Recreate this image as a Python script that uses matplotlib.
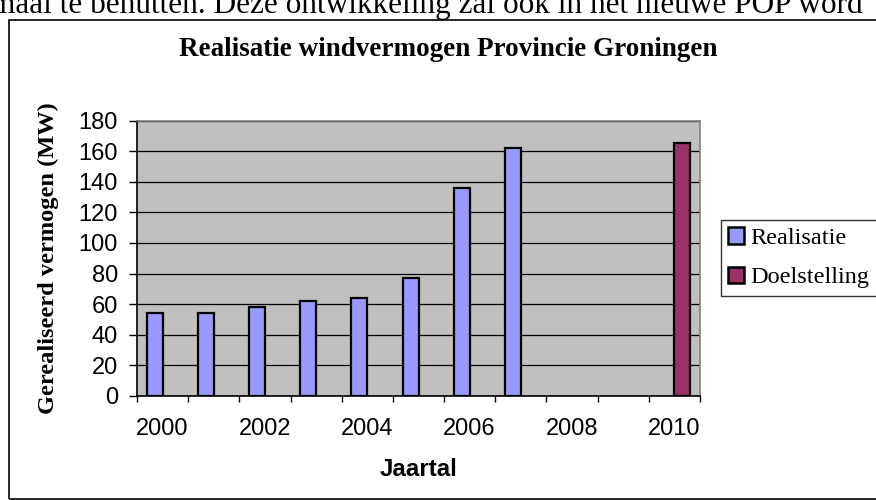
import numpy as np
import matplotlib.pyplot as plt
from matplotlib.patches import Rectangle

years = [2000, 2001, 2002, 2003, 2004, 2005, 2006, 2007, 2008, 2009, 2010]
realisatie = [54, 54, 58, 62, 64, 77, 136, 162, np.nan, np.nan, np.nan]
doelstelling = [np.nan] * 10 + [165]
year_labels = ['2000', '', '2002', '', '2004', '', '2006', '', '2008', '', '2010']
y_ticks = list(range(0, 181, 20))

SERIF = ['Liberation Serif', 'DejaVu Serif']
SANS = ['Liberation Sans', 'DejaVu Sans']
W, H = 876, 500


def fx(px):
    return px / W


def fy(py):
    return 1 - py / H


fig = plt.figure(figsize=(W / 100, H / 100), dpi=100)

# page text, cut off above the chart
fig.text(fx(-9), fy(13), 'maal te benutten. Deze ontwikkeling zal ook in het nieuwe POP word',
         family=SERIF, fontsize=22.5, ha='left', va='baseline')

# chart frame
fig.patches.append(Rectangle((fx(8.5), fy(499)), 1.0, (499 - 20) / H, transform=fig.transFigure,
                             fill=False, edgecolor='black', linewidth=1.2))

ax = fig.add_axes([fx(137), fy(396), fx(700) - fx(137), (396 - 120.5) / H])
ax.set_facecolor('#c0c0c0')

x = np.arange(len(years))
w = 0.31
ax.bar(x - w / 2, realisatie, w, color='#9999ff', edgecolor='black', linewidth=1.6,
       label='Realisatie', zorder=3)
ax.bar(x + w / 2, doelstelling, w, color='#993366', edgecolor='black', linewidth=1.6,
       label='Doelstelling', zorder=3)

ax.set_xlim(-0.5, len(years) - 0.5)
ax.set_ylim(0, 180)
ax.set_yticks(y_ticks)
ax.yaxis.grid(True, color='black', linewidth=0.9, zorder=1)
ax.set_axisbelow(True)

# tick marks between categories, labels under the categories
ax.set_xticks(np.arange(-0.5, len(years), 1.0))
ax.set_xticklabels([])
ax.set_xticks(x, minor=True)
ax.set_xticklabels(year_labels, minor=True)
ax.tick_params(axis='x', which='major', direction='out', length=4.5, width=1, color='black')
ax.tick_params(axis='x', which='minor', length=0, pad=15.5)
ax.tick_params(axis='y', direction='out', length=5.8, width=1, pad=8)
for lab in ax.get_xticklabels(minor=True) + ax.get_yticklabels():
    lab.set_family(SANS)
    lab.set_fontsize(17)

for side in ('top', 'right'):
    ax.spines[side].set_color('#808080')
    ax.spines[side].set_linewidth(1.2)
for side in ('left', 'bottom'):
    ax.spines[side].set_color('black')
    ax.spines[side].set_linewidth(1.2)

ax.set_xlabel('Jaartal', family=SANS, fontsize=17.4, fontweight='bold', labelpad=13)
ax.set_ylabel('Gerealiseerd vermogen (MW)', family=SERIF, fontsize=17.6, fontweight='bold')
ax.yaxis.set_label_coords(fx(59), fy(258), transform=fig.transFigure)

fig.text(fx(448), fy(49), 'Realisatie windvermogen Provincie Groningen',
         family=SERIF, fontsize=19.5, fontweight='bold', ha='center', va='center')

leg = ax.legend(loc='upper left', bbox_to_anchor=(fx(721), fy(220)),
                bbox_transform=fig.transFigure, prop={'family': SERIF, 'size': 17.5},
                frameon=True, fancybox=False, edgecolor='black', handlelength=0.66,
                handleheight=0.66, handletextpad=0.25, borderpad=0.3, labelspacing=0.72,
                borderaxespad=0)
leg.get_frame().set_linewidth(1.0)
for patch in leg.get_patches():
    patch.set_linewidth(1.8)

fig.savefig('out.png', dpi=100)
